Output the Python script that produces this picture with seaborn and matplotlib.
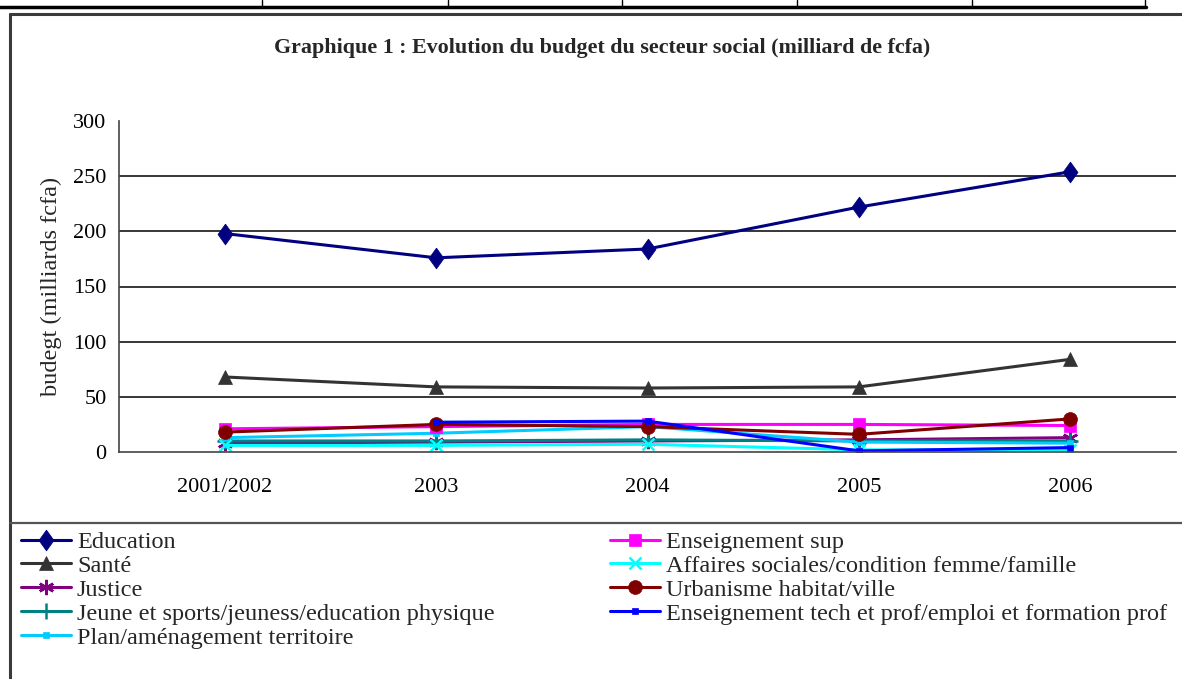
import numpy as np
import pandas as pd
import matplotlib.pyplot as plt
import seaborn as sns
from matplotlib.lines import Line2D

# data (milliards de fcfa)
years = ['2001/2002', '2003', '2004', '2005', '2006']
education = [198, 176, 184, 222, 254]
sante = [68, 59, 58, 59, 84]
justice = [8, 9, 10, 11, 13]
jeune_sports = [10, 10, 11, 10, 10]
plan = [13, 17, 23, 9, 8]
ens_sup = [21, 23, 25, 25, 24]
affaires_sociales = [6, 6, 7, 2, 2]
urbanisme = [18, 25, 23, 16, 30]
ens_tech = [np.nan, 27, 28, 1, 4]

# excel-like diamond (a bit taller than wide)
diamond = [(0, 1), (0.72, 0), (0, -1), (-0.72, 0), (0, 1)]

series = [
    ('Education', education, '#000080', diamond, 15),
    ('Santé', sante, '#333333', '^', 10),
    ('Justice', justice, '#800080', (6, 2, 0), 11),
    ('Jeune et sports/jeuness/education physique', jeune_sports, '#008080', '+', 11),
    ('Plan/aménagement territoire', plan, '#00CCFF', 's', 5),
    ('Enseignement sup', ens_sup, '#FF00FF', 's', 9),
    ('Affaires sociales/condition femme/famille', affaires_sociales, '#00FFFF', 'x', 9),
    ('Urbanisme habitat/ville', urbanisme, '#800000', 'o', 10),
    ('Enseignement tech et prof/emploi et formation prof', ens_tech, '#0000FF', 's', 5),
]

sns.set_style('white')
plt.rcParams['font.family'] = ['Liberation Serif', 'DejaVu Serif']

fig = plt.figure(figsize=(11.82, 6.79), dpi=100)
ax = fig.add_axes([119 / 1182, 1 - 452 / 679, (1176 - 119) / 1182, (452 - 121) / 679])

pos = np.arange(len(years))
handles = []
for name, vals, col, mk, ms in series:
    df = pd.DataFrame({'x': pos, 'y': vals}).dropna()
    mew = 1.8 if isinstance(mk, tuple) or mk in ('+', 'x') else 0.5
    sns.lineplot(x='x', y='y', data=df, ax=ax, color=col, marker=mk, markersize=ms,
                 markeredgecolor=col, markeredgewidth=mew, linewidth=2.2, legend=False)
    handles.append(Line2D([], [], color=col, marker=mk, markersize=ms, markeredgecolor=col,
                          markeredgewidth=mew, linewidth=2.2, label=name))

# axes
ax.set_xlim(-0.5, len(years) - 0.5)
ax.set_ylim(0, 300)
ax.set_yticks(range(0, 301, 50))
ax.set_xticks(np.arange(-0.5, len(years), 1.0))
ax.set_xticklabels([])
ax.set_xticks(pos, minor=True)
ax.set_xticklabels(years, minor=True)
ax.tick_params(axis='x', which='major', direction='out', length=6, width=1, colors='#333333')
ax.tick_params(axis='x', which='minor', length=0, pad=19, labelsize=16, labelcolor='black')
ax.tick_params(axis='y', direction='out', length=5, width=1, pad=4, labelsize=16, colors='#333333',
               labelcolor='black')
for y in range(50, 300, 50):
    ax.axhline(y, color='black', linewidth=1.1, zorder=0)
for s in ['top', 'right']:
    ax.spines[s].set_visible(False)
for s in ['left', 'bottom']:
    ax.spines[s].set_color('#444444')
    ax.spines[s].set_linewidth(1.2)
ax.set_xlabel('')
ax.set_ylabel('budegt (milliards fcfa)', fontsize=17.5, labelpad=8)

fig.text(602 / 1182, 1 - 48 / 679, 'Graphique 1 : Evolution du budget du secteur social (milliard de fcfa)',
         ha='center', va='center', fontsize=15.8, fontweight='bold')

# legend in two columns, like the Excel box
leg_kw = dict(frameon=False, fontsize=17.5, handlelength=2.05, handletextpad=0.25,
              labelspacing=0.08, borderaxespad=0, borderpad=0)
fig.legend(handles=handles[:5], loc='upper left', bbox_to_anchor=(21 / 1182, 1 - 531 / 679), **leg_kw)
fig.legend(handles=handles[5:], loc='upper left', bbox_to_anchor=(610 / 1182, 1 - 531 / 679), **leg_kw)

# frame of the chart and legend box, plus table edge above
W, H = 1182, 679
def fline(x0, y0, x1, y1, lw, col='#3a3a3a'):
    fig.add_artist(Line2D([x0 / W, x1 / W], [1 - y0 / H, 1 - y1 / H], color=col, linewidth=lw,
                          transform=fig.transFigure))

fline(10, 14, W, 14, 2.2)
fline(10, 14, 10, H, 2.2)
fline(10, 523, W, 523, 1.6, '#555555')
fline(0, 7, 1146, 7, 2.5, 'black')
for xv in [262, 448, 622, 797, 972, 1145]:
    fline(xv, 0, xv, 7, 1, 'black')

fig.savefig('out.png', dpi=100)
